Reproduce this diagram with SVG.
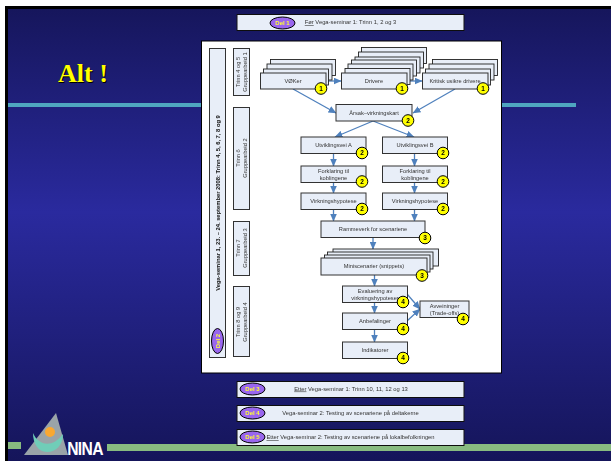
<svg xmlns="http://www.w3.org/2000/svg" width="611" height="461" viewBox="0 0 611 461">
<defs>
<linearGradient id="bg" x1="0" y1="0" x2="0" y2="1">
<stop offset="0" stop-color="#16165c"/><stop offset="0.45" stop-color="#2a2a9e"/><stop offset="1" stop-color="#15155a"/>
</linearGradient>
<marker id="ah" markerUnits="userSpaceOnUse" markerWidth="8" markerHeight="7" refX="7.500" refY="3.500" orient="auto"><path d="M0 0L8 3.500L0 7Z" fill="#4f81bd"/></marker>
<filter id="soft" x="-5%" y="-5%" width="110%" height="110%"><feGaussianBlur stdDeviation="0.3"/></filter>
</defs>
<style>
text{font-family:"Liberation Sans",Arial,sans-serif;fill:#333;text-anchor:middle}
.b{fill:#e8eef8;stroke:#333;stroke-width:1}
.s{fill:#e8eef8;stroke:#222;stroke-width:.9}
.bar{fill:#e8eef8;stroke:#111;stroke-width:1}
.t{font-size:5.700px}
.w{font-size:5.800px}
.c{fill:#ffff00;stroke:#000;stroke-width:1}
.n{font-size:6.500px;font-weight:bold;fill:#000}
.e{fill:#9966ee;stroke:#000;stroke-width:1}
.d{font-size:6px;font-weight:bold;fill:#ffff33}
.a{fill:none;stroke:#4f81bd;stroke-width:1.300;marker-end:url(#ah)}
.u{text-decoration:underline}
</style>
<rect width="611" height="461" fill="#fff"/>
<rect x="5" y="6" width="606" height="455" fill="#000"/>
<rect x="8" y="9" width="603" height="452" fill="url(#bg)"/>
<rect x="8" y="103" width="568" height="4" fill="#4fa6c0"/>
<rect x="8" y="442" width="13" height="7" fill="#88bb80"/>
<rect x="107" y="444" width="504" height="7" fill="#88bb80"/>
<g id="logo">
<path d="M56 413L68 455H24Z" fill="#9aa4a8"/>
<path d="M33 433C38 445 52 449 63 434C63 445 56 452 47 452C38 452 33 443 33 433Z" fill="#70cdb8"/>
<circle cx="50" cy="432" r="5" fill="#f9a832"/>
<text transform="translate(85,455) scale(.87,1)" style="font-size:18px;font-weight:bold;fill:#fff;letter-spacing:-.8px">NINA</text>
</g>
<g id="title"><text x="84" y="83" style="font-family:'Liberation Serif',serif;font-size:26px;font-weight:bold;fill:#000">Alt !</text><text x="83" y="82" style="font-family:'Liberation Serif',serif;font-size:26px;font-weight:bold;fill:#ffff00">Alt !</text></g>
<g filter="url(#soft)">
<g id="del1"><rect class="bar" x="237" y="14.500" width="227" height="16"/><ellipse class="e" cx="282.500" cy="23" rx="12.500" ry="6"/><text class="d" x="282.500" y="25">Del 1</text><text class="w" x="350.500" y="24"><tspan class="u">Før</tspan> Vega-seminar 1: Trinn 1, 2 og 3</text></g>
<rect x="201.500" y="41" width="300" height="332" fill="#fff" stroke="#000" stroke-width="1"/>
<g id="del2"><rect class="b" x="209.500" y="48.500" width="16" height="309"/><text transform="translate(219.500,203) rotate(-90)" style="font-size:5.800px;font-weight:bold;fill:#111">Vega-seminar 1, 23. – 24. september 2008: Trinn 4, 5, 6, 7, 8 og 9</text><ellipse class="e" cx="217.500" cy="341" rx="6" ry="12.500"/><text class="d" transform="translate(219.500,341) rotate(-90)">Del 2</text></g>
<g id="g1"><rect class="b" x="233.500" y="48.500" width="16" height="47"/><text class="t" transform="translate(240,72) rotate(-90)">Trinn 4 og 5</text><text class="t" transform="translate(247,72) rotate(-90)">Gruppearbeid 1</text></g>
<g id="g2"><rect class="b" x="233.500" y="107.500" width="16" height="102"/><text class="t" transform="translate(240,158) rotate(-90)">Trinn 6</text><text class="t" transform="translate(247,158) rotate(-90)">Gruppearbeid 2</text></g>
<g id="g3"><rect class="b" x="233.500" y="221.500" width="16" height="54"/><text class="t" transform="translate(240,248) rotate(-90)">Trinn 7</text><text class="t" transform="translate(247,248) rotate(-90)">Gruppearbeid 3</text></g>
<g id="g4"><rect class="b" x="233.500" y="286.500" width="16" height="70"/><text class="t" transform="translate(240,322) rotate(-90)">Trinn 8 og 9</text><text class="t" transform="translate(247,322) rotate(-90)">Gruppearbeid 4</text></g>
<g id="connectors">
<path class="a" d="M326 81H341"/><path class="a" d="M407 81H422"/>
<path class="a" d="M293 89L336 113"/><path class="a" d="M455 89L413 113"/>
<path class="a" d="M373 121L335 137"/><path class="a" d="M373 121L414 137"/>
<path class="a" d="M333.500 153V166"/><path class="a" d="M333.500 182V193"/><path class="a" d="M333.500 209V221"/>
<path class="a" d="M414.500 153V166"/><path class="a" d="M414.500 182V193"/><path class="a" d="M414.500 209V221"/>
<path class="a" d="M373 237V249"/><path class="a" d="M374.500 275V286"/><path class="a" d="M374.500 302V313"/><path class="a" d="M374.500 329V342"/>
<path class="a" d="M407 294L420 309"/><path class="a" d="M407 321L420 309"/>
</g>
<g id="voker"><rect class="s" x="270.500" y="59.500" width="65" height="16"/><rect class="s" x="267" y="64" width="65" height="16"/><rect class="s" x="263.500" y="69" width="65" height="16"/><rect class="b" x="260.500" y="73" width="65.500" height="16"/><text class="t" x="293" y="83">VØKer</text><circle class="c" cx="321" cy="88.500" r="5.800"/><text class="n" x="321" y="90.800">1</text></g>
<g id="drivere"><rect class="s" x="361.500" y="47.500" width="65" height="16"/><rect class="s" x="358.500" y="52" width="65" height="16"/><rect class="s" x="355" y="57" width="65" height="16"/><rect class="s" x="351.500" y="60" width="65" height="16"/><rect class="s" x="348" y="64" width="65" height="16"/><rect class="s" x="345" y="68.500" width="65" height="16"/><rect class="b" x="341.500" y="73" width="65.500" height="16"/><text class="t" x="374" y="83">Drivere</text><circle class="c" cx="402" cy="88.500" r="5.800"/><text class="n" x="402" y="90.800">1</text></g>
<g id="kritisk"><rect class="s" x="432.500" y="59.500" width="65" height="16"/><rect class="s" x="429" y="64" width="65" height="16"/><rect class="s" x="425.500" y="69" width="65" height="16"/><rect class="b" x="422.500" y="73" width="65.500" height="16"/><text class="t" x="455" y="83">Kritisk usikre drivere</text><circle class="c" cx="483" cy="88.500" r="5.800"/><text class="n" x="483" y="90.800">1</text></g>
<g id="arsak"><rect class="b" x="336" y="104.500" width="76" height="16.500"/><text class="t" x="374" y="114.500">Årsak–virkningskart</text><circle class="c" cx="408" cy="120.500" r="5.800"/><text class="n" x="408" y="122.800">2</text></g>
<g id="uA"><rect class="b" x="301" y="137" width="65" height="16.500"/><text class="t" x="333.500" y="146.500">Utviklingsvei A</text><circle class="c" cx="362" cy="153" r="5.800"/><text class="n" x="362" y="155.300">2</text></g>
<g id="uB"><rect class="b" x="382.500" y="137" width="65" height="16.500"/><text class="t" x="415" y="146.500">Utviklingsvei B</text><circle class="c" cx="443" cy="153" r="5.800"/><text class="n" x="443" y="155.300">2</text></g>
<g id="fA"><rect class="b" x="301" y="166" width="65" height="16.500"/><text class="t" x="333.500" y="172.500">Forklaring til</text><text class="t" x="333.500" y="179.500">koblingene</text><circle class="c" cx="362" cy="181.500" r="5.800"/><text class="n" x="362" y="183.800">2</text></g>
<g id="fB"><rect class="b" x="382.500" y="166" width="65" height="16.500"/><text class="t" x="415" y="172.500">Forklaring til</text><text class="t" x="415" y="179.500">koblingene</text><circle class="c" cx="443" cy="181.500" r="5.800"/><text class="n" x="443" y="183.800">2</text></g>
<g id="vA"><rect class="b" x="301" y="193" width="65" height="16.500"/><text class="t" x="333.500" y="202.500">Virkningshypotese</text><circle class="c" cx="362" cy="209" r="5.800"/><text class="n" x="362" y="211.300">2</text></g>
<g id="vB"><rect class="b" x="382.500" y="193" width="65" height="16.500"/><text class="t" x="415" y="202.500">Virkningshypotese</text><circle class="c" cx="443" cy="209" r="5.800"/><text class="n" x="443" y="211.300">2</text></g>
<g id="ramme"><rect class="b" x="321" y="221" width="104" height="16.500"/><text class="t" x="373" y="230.500">Rammeverk for scenariene</text><circle class="c" cx="425" cy="238" r="5.800"/><text class="n" x="425" y="240.300">3</text></g>
<g id="mini"><rect class="s" x="333" y="249" width="105.500" height="17"/><rect class="s" x="327.500" y="252" width="105.500" height="17"/><rect class="s" x="324.500" y="255" width="105.500" height="17"/><rect class="b" x="321" y="258" width="106" height="17"/><text class="t" x="374" y="268">Miniscenarier (snippets)</text><circle class="c" cx="422" cy="275.500" r="5.800"/><text class="n" x="422" y="277.800">3</text></g>
<g id="eval"><rect class="b" x="342.500" y="286" width="65" height="16.500"/><text class="t" x="375" y="292.500">Evaluering av</text><text class="t" x="375" y="299.500">virkningshypoteser</text><circle class="c" cx="403" cy="302" r="5.800"/><text class="n" x="403" y="304.300">4</text></g>
<g id="anb"><rect class="b" x="342.500" y="313" width="65" height="16.500"/><text class="t" x="375" y="323">Anbefalinger</text><circle class="c" cx="403" cy="329" r="5.800"/><text class="n" x="403" y="331.300">4</text></g>
<g id="ind"><rect class="b" x="342.500" y="342" width="65" height="16.500"/><text class="t" x="375" y="352">Indikatorer</text><circle class="c" cx="403" cy="358" r="5.800"/><text class="n" x="403" y="360.300">4</text></g>
<g id="avv"><rect class="b" x="420" y="301" width="49" height="16.500"/><text class="t" x="444.500" y="307.500">Avveininger</text><text class="t" x="444.500" y="314.500">(Trade-offs)</text><circle class="c" cx="463" cy="319" r="5.800"/><text class="n" x="463" y="321.300">4</text></g>
<g id="del3"><rect class="bar" x="237" y="381.500" width="227" height="16"/><ellipse class="e" cx="252.500" cy="389" rx="12.500" ry="6"/><text class="d" x="252.500" y="391">Del 3</text><text class="w" x="351" y="390.500"><tspan class="u">Etter</tspan> Vega-seminar 1: Trinn 10, 11, 12 og 13</text></g>
<g id="del4"><rect class="bar" x="237" y="405.500" width="227" height="16"/><ellipse class="e" cx="252.500" cy="413" rx="12.500" ry="6"/><text class="d" x="252.500" y="415">Del 4</text><text class="w" x="350.500" y="415">Vega-seminar 2: Testing av scenariene på deltakerne</text></g>
<g id="del5"><rect class="bar" x="237" y="429.500" width="227" height="16"/><ellipse class="e" cx="252.500" cy="437" rx="12.500" ry="6"/><text class="d" x="252.500" y="439">Del 5</text><text class="w" x="350.500" y="439"><tspan class="u">Etter</tspan> Vega-seminar 2: Testing av scenariene på lokalbefolkningen</text></g>
</g>
</svg>
